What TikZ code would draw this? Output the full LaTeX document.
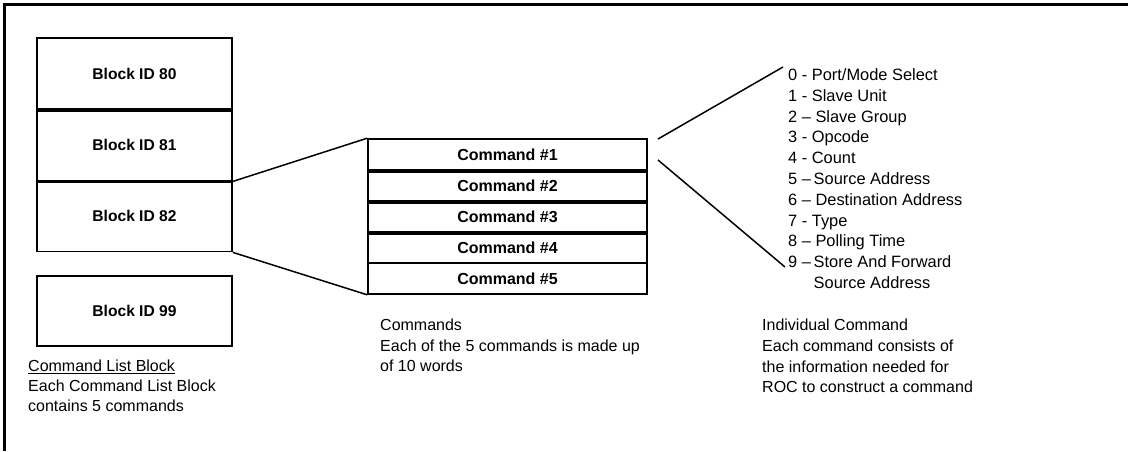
\documentclass[tikz,border=0pt]{standalone}
\usepackage{fontspec}
\setmainfont{Liberation Sans}
\begin{document}
\begin{tikzpicture}[x=1pt,y=-1pt,
  blockbox/.style={draw,line width=1.8pt,minimum width=195pt,minimum height=71pt,inner sep=0pt,font=\fontsize{15.6}{18}\selectfont\bfseries},
  cmdbox/.style={draw,line width=1.6pt,minimum width=279pt,minimum height=31pt,inner sep=0pt,font=\fontsize{16}{18}\selectfont\bfseries},
  divider/.style={line width=3.5pt},
  conn/.style={line width=1.5pt},
  txt/.style={inner sep=0pt,align=left,anchor=north west,font=\fontsize{16}{20.8}\selectfont}
]
\useasboundingbox (0,0) rectangle (1128,451);
% frame
\draw[line width=3pt] (4,451) -- (4,4.5) -- (1128,4.5);

% blocks
\node[blockbox] (b80) at (134.5,73.5) {Block ID 80};
\node[blockbox] (b81) at (134.5,145) {Block ID 81};
\node[blockbox] (b82) at (134.5,216) {Block ID 82};
\node[blockbox,minimum height=70pt] (b99) at (134.5,311) {Block ID 99};
\draw[divider] (b80.south west) -- (b80.south east);
\draw[divider] (b81.south west) -- (b81.south east);

% commands
\node[cmdbox] (c1) at (507.5,154.5) {Command \#1};
\node[cmdbox] (c2) at (507.5,185.5) {Command \#2};
\node[cmdbox] (c3) at (507.5,216.5) {Command \#3};
\node[cmdbox] (c4) at (507.5,247.5) {Command \#4};
\node[cmdbox] (c5) at (507.5,278.5) {Command \#5};
\draw[divider] (c1.south west) -- (c1.south east);
\draw[divider] (c2.south west) -- (c2.south east);
\draw[divider] (c3.south west) -- (c3.south east);

% connectors block -> commands
\draw[conn] (b81.south east) -- (c1.north west);
\draw[conn] (b82.south east) -- (c5.south west);

% connectors commands -> list
\coordinate (r1) at (658,139);
\coordinate (r2) at (658,160);
\coordinate (e1) at (783,67);
\coordinate (e2) at (785,267);
\draw[conn] (r1) -- (e1);
\draw[conn] (r2) -- (e2);

% list
\node[txt,font=\fontsize{16.4}{20.8}\selectfont] (list) at (788,68.5) {0 - Port/Mode Select\\
1 - Slave Unit\\
2 -- Slave Group\\
3 - Opcode\\
4 - Count\\
5 --\,Source Address\\
6 -- Destination Address\\
7 - Type\\
8 -- Polling Time\\
9 --\,Store And Forward\\
\hphantom{9 --\,}Source Address};

% captions
\node[txt,font=\fontsize{16}{20}\selectfont] (capL) at (28,359.5) {\underline{Command List Block}\\
Each Command List Block\\
contains 5 commands};
\node[txt,font=\fontsize{16}{20.2}\selectfont] (capC) at (380,319) {Commands\\
Each of the 5 commands is made up\\
of 10 words};
\node[txt,font=\fontsize{16}{20.7}\selectfont] (capR) at (762,319) {Individual Command\\
Each command consists of\\
the information needed for\\
ROC to construct a command};
\end{tikzpicture}
\end{document}
